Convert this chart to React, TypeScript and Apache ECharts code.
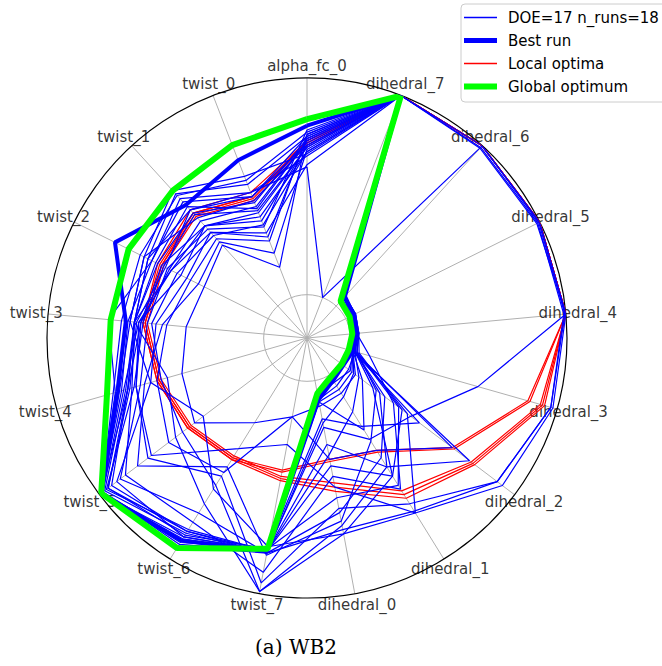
import React, { useEffect, useRef } from 'react';
import * as echarts from 'echarts';

// Axis order, clockwise from the top
const axisNames = [
  'alpha_fc_0', 'dihedral_7', 'dihedral_6', 'dihedral_5', 'dihedral_4', 'dihedral_3',
  'dihedral_2', 'dihedral_1', 'dihedral_0', 'twist_7', 'twist_6', 'twist_5', 'twist_4',
  'twist_3', 'twist_2', 'twist_1', 'twist_0',
];

const legendNames = ['DOE=17 n_runs=18', 'Best run', 'Local optima', 'Global optimum'];
const caption = '(a) WB2';

// DOE runs (normalised design variables)
const doeRuns = [
  [0.72, 1.00, 1.00, 1.00, 1.00, 0.98, 0.93, 0.75, 0.72, 0.99, 0.70, 0.56, 0.47, 0.60, 0.50, 0.46, 0.30],
  [0.66, 1.00, 0.99, 0.99, 0.99, 0.97, 0.90, 0.70, 0.60, 0.95, 0.55, 0.72, 0.62, 0.57, 0.55, 0.50, 0.40],
  [0.73, 1.00, 0.985, 0.985, 1.00, 0.62, 0.40, 0.35, 0.22, 0.80, 0.88, 0.99, 0.66, 0.60, 0.62, 0.70, 0.56],
  [0.68, 1.00, 0.05, 0.04, 0.04, 0.04, 0.33, 0.60, 0.55, 0.79, 0.90, 0.98, 0.68, 0.58, 0.45, 0.50, 0.42],
  [0.74, 1.00, 0.06, 0.05, 0.04, 0.03, 0.64, 0.41, 0.37, 0.17, 0.53, 0.60, 0.52, 0.45, 0.40, 0.42, 0.28],
  [0.69, 1.00, 0.05, 0.04, 0.03, 0.02, 0.74, 0.50, 0.30, 0.80, 0.92, 0.98, 0.70, 0.62, 0.64, 0.55, 0.48],
  [0.76, 1.00, 0.04, 0.03, 0.02, 0.03, 0.25, 0.45, 0.62, 0.81, 0.75, 0.88, 0.60, 0.54, 0.52, 0.48, 0.35],
  [0.64, 1.00, 0.04, 0.03, 0.02, 0.02, 0.12, 0.30, 0.10, 0.80, 0.89, 0.99, 0.69, 0.63, 0.60, 0.67, 0.52],
  [0.71, 1.00, 0.05, 0.04, 0.03, 0.03, 0.18, 0.55, 0.40, 0.80, 0.85, 0.93, 0.66, 0.57, 0.51, 0.53, 0.45],
  [0.67, 1.00, 0.06, 0.05, 0.04, 0.04, 0.20, 0.36, 0.66, 0.82, 0.50, 0.78, 0.58, 0.47, 0.36, 0.40, 0.22],
  [0.74, 1.00, 0.04, 0.03, 0.02, 0.02, 0.08, 0.10, 0.12, 0.17, 0.26, 0.45, 0.40, 0.36, 0.33, 0.38, 0.15],
  [0.70, 1.00, 0.05, 0.04, 0.03, 0.02, 0.05, 0.04, 0.07, 0.79, 0.91, 0.99, 0.72, 0.72, 0.60, 0.65, 0.50],
  [0.65, 1.00, 0.05, 0.04, 0.03, 0.03, 0.04, 0.06, 0.09, 0.80, 0.88, 0.90, 0.55, 0.62, 0.64, 0.72, 0.60],
  [0.59, 0.00, 1.00, 0.995, 0.995, 0.97, 0.90, 0.74, 0.70, 0.81, 0.85, 0.95, 0.66, 0.60, 0.62, 0.60, 0.52],
  [0.72, 1.00, 0.05, 0.04, 0.03, 0.10, 0.30, 0.62, 0.45, 0.90, 0.80, 0.85, 0.64, 0.60, 0.57, 0.58, 0.47],
  [0.60, 1.00, 0.06, 0.05, 0.04, 0.05, 0.35, 0.55, 0.72, 0.78, 0.62, 0.40, 0.55, 0.50, 0.42, 0.46, 0.32],
  [0.69, 1.00, 0.05, 0.04, 0.03, 0.04, 0.38, 0.75, 0.50, 0.30, 0.40, 0.70, 0.62, 0.58, 0.50, 0.50, 0.38],
  [0.71, 1.00, 0.04, 0.03, 0.03, 0.02, 0.06, 0.08, 0.10, 0.81, 0.86, 0.97, 0.67, 0.60, 0.58, 0.62, 0.44],
  [0.68, 1.00, 0.05, 0.04, 0.03, 0.03, 0.10, 0.20, 0.35, 0.80, 0.84, 0.96, 0.63, 0.56, 0.54, 0.57, 0.43],
  [0.73, 1.00, 0.04, 0.04, 0.03, 0.02, 0.45, 0.28, 0.18, 0.79, 0.87, 0.95, 0.65, 0.59, 0.53, 0.60, 0.50],
  [0.66, 1.00, 0.05, 0.04, 0.03, 0.03, 0.22, 0.50, 0.68, 0.99, 0.60, 0.52, 0.50, 0.52, 0.47, 0.44, 0.36],
  [0.75, 1.00, 0.05, 0.04, 0.03, 0.02, 0.07, 0.12, 0.20, 0.81, 0.93, 0.99, 0.73, 0.66, 0.66, 0.69, 0.58],
];

const localOptima = [
  [0.70, 1.00, 1.00, 1.00, 1.00, 0.86, 0.64, 0.41, 0.37, 0.42, 0.45, 0.48, 0.51, 0.55, 0.55, 0.57, 0.49],
  [0.71, 1.00, 1.00, 1.00, 1.00, 0.87, 0.65, 0.42, 0.38, 0.43, 0.46, 0.49, 0.52, 0.56, 0.56, 0.58, 0.50],
  [0.69, 1.00, 1.00, 1.00, 1.00, 0.92, 0.75, 0.63, 0.48, 0.45, 0.44, 0.47, 0.50, 0.54, 0.54, 0.56, 0.48],
  [0.70, 1.00, 1.00, 1.00, 1.00, 0.93, 0.76, 0.65, 0.50, 0.46, 0.45, 0.48, 0.51, 0.55, 0.55, 0.58, 0.50],
  [0.71, 1.00, 1.00, 1.00, 1.00, 0.94, 0.77, 0.67, 0.52, 0.47, 0.46, 0.49, 0.52, 0.56, 0.57, 0.60, 0.52],
];

const bestRun = [0.78, 1.00, 0.06, 0.04, 0.03, 0.02, 0.01, 0.03, 0.09, 0.80, 0.90, 0.99, 0.71, 0.64, 0.79, 0.63, 0.68];

const globalOptimum = [0.81, 1.00, 0.03, 0.02, 0.01, 0.00, 0.00, 0.01, 0.06, 0.79, 0.94, 0.99, 0.76, 0.71, 0.72, 0.72, 0.755];

const BLUE = '#0000ff';
const RED = '#ff0000';
const GREEN = '#00ff00';
const FONT = 'DejaVu Sans';
const N = axisNames.length;

const closedLoop = (vals: number[]) => [...vals.map((v, i) => [v, i]), [vals[0], N]];

const lineSeries = (name: string, vals: number[], color: string, width: number) => ({
  type: 'line',
  name,
  coordinateSystem: 'polar',
  polarIndex: 0,
  data: closedLoop(vals),
  symbol: 'none',
  showSymbol: false,
  clip: false,
  silent: true,
  color,
  itemStyle: { color },
  lineStyle: { color, width },
  z: 2,
});

function buildOption() {
  const series: any[] = [];
  // axis name labels (drawn under the lines)
  series.push({
    type: 'scatter',
    coordinateSystem: 'polar',
    polarIndex: 1,
    data: axisNames.map((n, i) => ({ name: n, value: [1, i] })),
    symbolSize: 1,
    itemStyle: { color: 'rgba(0,0,0,0)' },
    label: {
      show: true,
      position: 'inside',
      formatter: '{b}',
      color: '#000',
      fontSize: 15,
      fontFamily: FONT,
      align: 'center',
      verticalAlign: 'middle',
    },
    silent: true,
    clip: false,
    z: 1,
  });
  localOptima.forEach((r) => series.push(lineSeries(legendNames[2], r, RED, 1.2)));
  doeRuns.forEach((r) => series.push(lineSeries(legendNames[0], r, BLUE, 1.2)));
  series.push(lineSeries(legendNames[1], bestRun, BLUE, 4));
  series.push(lineSeries(legendNames[3], globalOptimum, GREEN, 6));

  const angleBase = {
    type: 'value',
    min: 0,
    max: N,
    interval: 1,
    startAngle: 90,
    clockwise: true,
  };

  const thinIcon = 'path://M0,0L33,0L33,1.5L0,1.5Z';
  const transparent = 'rgba(0,0,0,0)';

  return {
    animation: false,
    backgroundColor: '#ffffff',
    title: {
      text: caption,
      left: 255,
      top: 637,
      padding: 0,
      textStyle: { fontFamily: 'DejaVu Serif', fontSize: 20, fontWeight: 'normal', color: '#000' },
    },
    polar: [
      { center: [307, 338], radius: 260 },
      { center: [307, 338], radius: 272 },
    ],
    angleAxis: [
      {
        ...angleBase,
        polarIndex: 0,
        axisLine: { show: true, lineStyle: { color: '#000', width: 1.2 } },
        axisTick: { show: false },
        axisLabel: { show: false },
        splitLine: { show: true, lineStyle: { color: '#b0b0b0', width: 1 } },
      },
      {
        ...angleBase,
        polarIndex: 1,
        axisLine: { show: false },
        axisTick: { show: false },
        axisLabel: { show: false },
        splitLine: { show: false },
      },
    ],
    radiusAxis: [
      {
        polarIndex: 0,
        type: 'value',
        min: -0.2,
        max: 1,
        interval: 0.2,
        axisLine: { show: false },
        axisTick: { show: false },
        axisLabel: { show: false },
        splitLine: {
          show: true,
          lineStyle: {
            color: [transparent, '#b0b0b0', transparent, transparent, transparent, transparent, transparent],
            width: 1,
          },
        },
      },
      {
        polarIndex: 1,
        type: 'value',
        min: 0,
        max: 1,
        axisLine: { show: false },
        axisTick: { show: false },
        axisLabel: { show: false },
        splitLine: { show: false },
      },
    ],
    legend: {
      data: [
        { name: legendNames[0], icon: thinIcon, itemStyle: { color: BLUE, borderColor: BLUE, borderWidth: 0 } },
        { name: legendNames[1], icon: 'path://M0,0L33,0L33,5L0,5Z', itemStyle: { color: BLUE, borderColor: BLUE, borderWidth: 0 } },
        { name: legendNames[2], icon: thinIcon, itemStyle: { color: RED, borderColor: RED, borderWidth: 0 } },
        { name: legendNames[3], icon: 'path://M0,0L33,0L33,6L0,6Z', itemStyle: { color: GREEN, borderColor: GREEN, borderWidth: 0 } },
      ],
      orient: 'vertical',
      left: 461,
      top: 4,
      itemWidth: 33,
      itemHeight: 14,
      itemGap: 8,
      symbolKeepAspect: true,
      padding: [6, 12, 8, 3],
      backgroundColor: '#ffffff',
      borderColor: '#cccccc',
      borderWidth: 1,
      borderRadius: 4,
      selectedMode: false,
      textStyle: { fontFamily: FONT, fontSize: 15, color: '#000', padding: [0, 0, 0, 6] },
    },
    series,
  };
}

export default function App() {
  const ref = useRef<HTMLDivElement>(null);
  useEffect(() => {
    const chart = echarts.init(ref.current!, null, { renderer: 'svg' });
    chart.setOption(buildOption() as any);
    return () => chart.dispose();
  }, []);
  return (
    <div
      ref={ref}
      style={{ position: 'fixed', left: 0, top: 0, width: 662, height: 666, background: '#fff' }}
    />
  );
}
